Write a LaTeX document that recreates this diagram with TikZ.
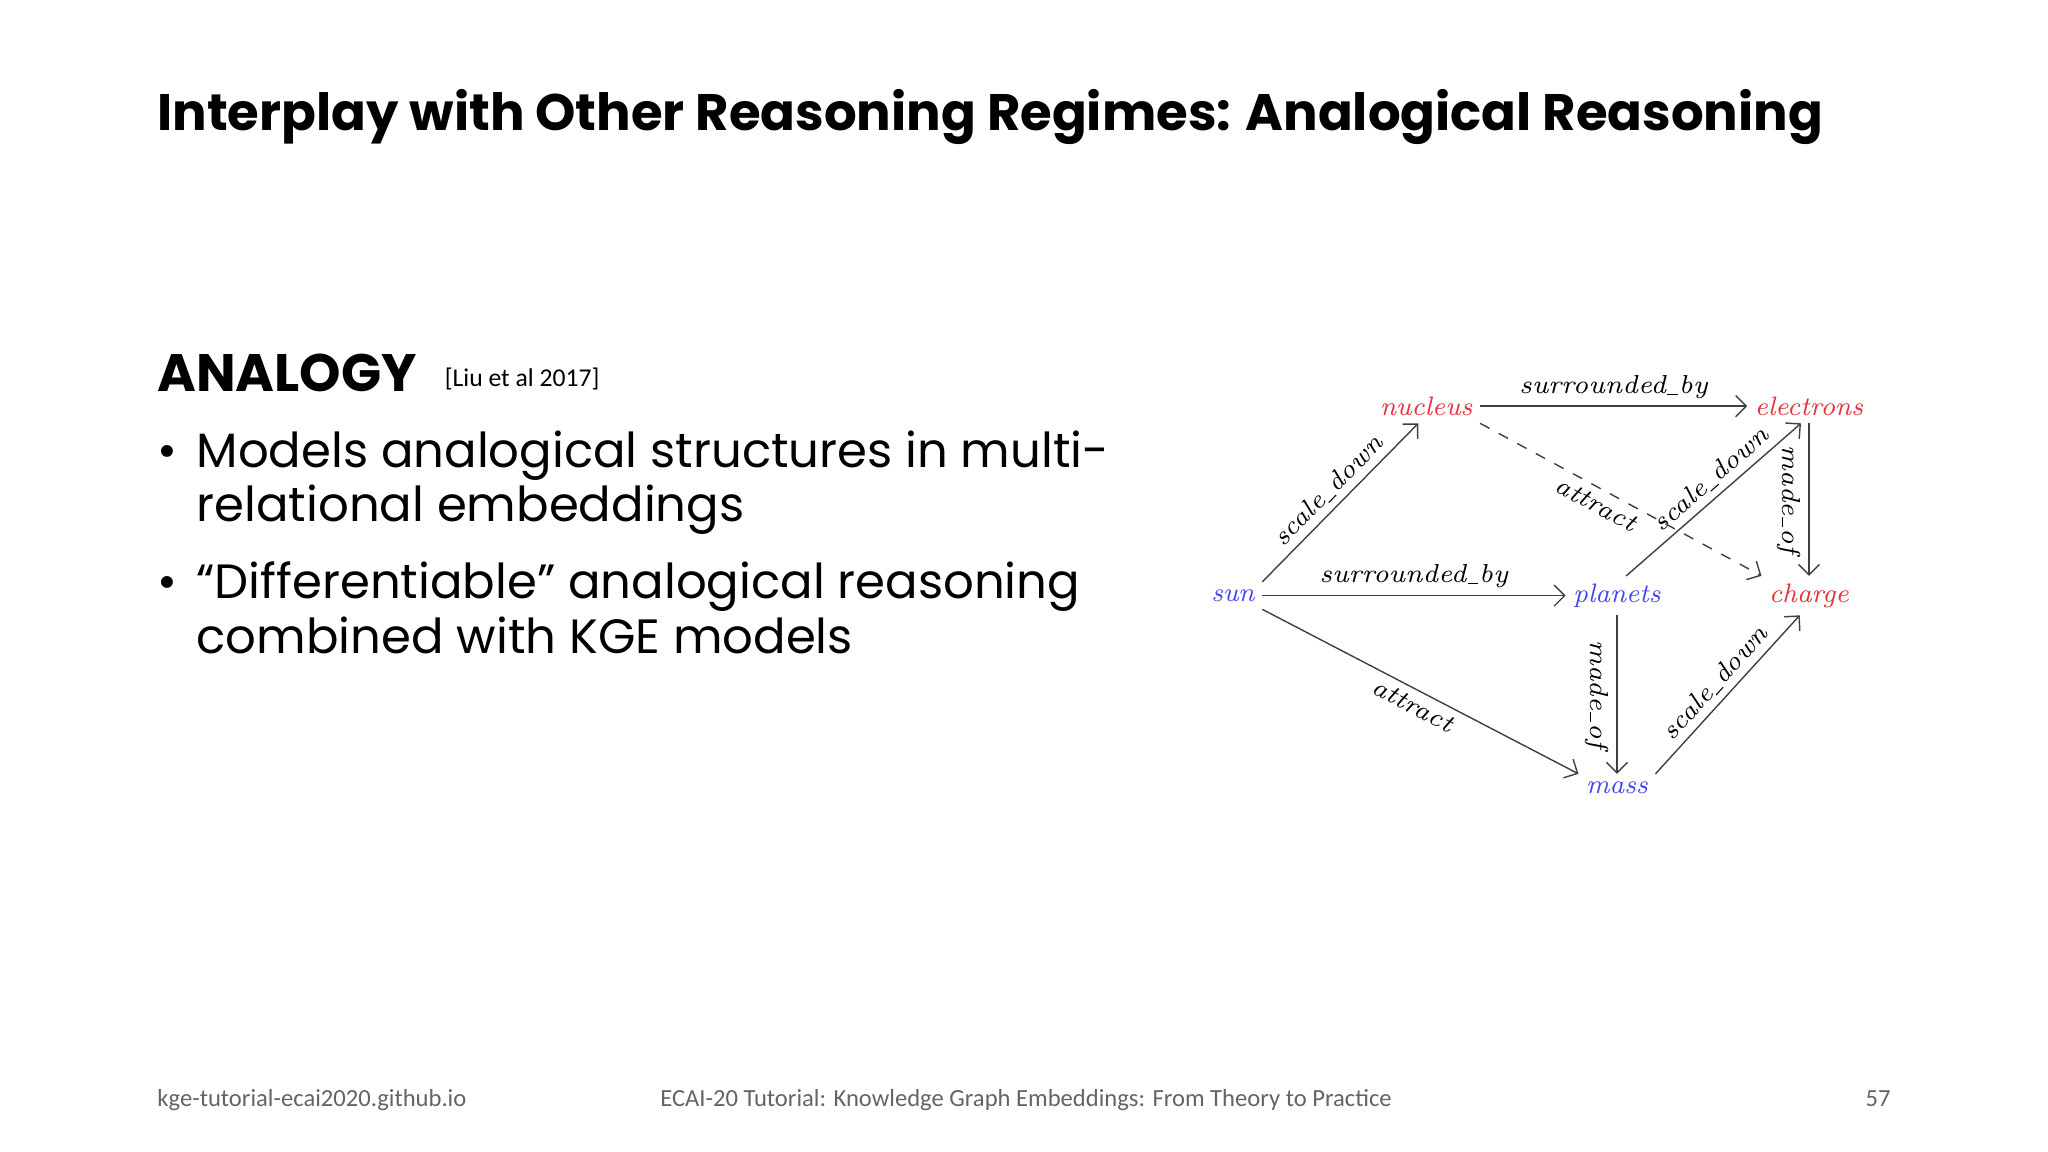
\documentclass[tikz,border=0pt]{standalone}
\usepackage{fontspec}
\newfontfamily\pop{Poppins}
\newfontfamily\car{Carlito}
\usetikzlibrary{arrows.meta}
\definecolor{nblue}{RGB}{70,70,235}
\definecolor{nred}{RGB}{230,50,60}
\definecolor{foot}{RGB}{100,100,100}
\newcommand{\us}{\kern0.3pt\rule[-0.4pt]{3pt}{0.3pt}\kern0.3pt}
\begin{document}
\begin{tikzpicture}[x=0.013061cm,y=-0.013061cm,
  ent/.style={font=\fontsize{7.6}{9}\selectfont\itshape, inner sep=2pt},
  bl/.style={ent,text=nblue}, rd/.style={ent,text=nred},
  rel/.style={-{Straight Barb[length=3pt]}, draw=black!75, line width=0.4pt},
  lab/.style={font=\fontsize{7.4}{9}\selectfont\itshape, sloped, inner sep=2pt}]
\useasboundingbox (0,0) rectangle (1568,882);
\node[anchor=base west, inner sep=0, font=\pop\bfseries\fontsize{14.6}{18}\selectfont] (title) at (120,100) {Interplay with Other Reasoning Regimes: Analogical Reasoning};
\node[anchor=base west, inner sep=0, font=\pop\bfseries\fontsize{15}{18}\selectfont] (an) at (120,300) {ANALOGY};
\node[anchor=base west, inner sep=0, font=\car\fontsize{7.3}{9}\selectfont] (ref) at (340,296) {[Liu et al 2017]};
\node[anchor=base west, inner sep=0, font=\pop\fontsize{13.7}{15}\selectfont] (b1) at (120,358) {•};
\node[anchor=base west, inner sep=0, font=\pop\fontsize{13.7}{15}\selectfont] (t1) at (150,358) {Models analogical structures in multi-};
\node[anchor=base west, inner sep=0, font=\pop\fontsize{13.7}{15}\selectfont] (t1b) at (150,399) {relational embeddings};
\node[anchor=base west, inner sep=0, font=\pop\fontsize{13.7}{15}\selectfont] (b2) at (120,458) {•};
\node[anchor=base west, inner sep=0, font=\pop\fontsize{13.7}{15}\selectfont] (t2) at (150,458) {“Differentiable” analogical reasoning};
\node[anchor=base west, inner sep=0, font=\pop\fontsize{13.7}{15}\selectfont] (t2b) at (150,500) {combined with KGE models};
% graph
\node[rd] (nuc) at (1092,311) {nucleus};
\node[rd] (ele) at (1385,311) {electrons};
\node[bl] (sun) at (944,456) {sun};
\node[bl] (pla) at (1238,456) {planets};
\node[rd] (cha) at (1385,456) {charge};
\node[bl] (mas) at (1238,603) {mass};
\draw[rel] (nuc) -- node[lab,above]{surrounded\us by} (ele);
\draw[rel] (sun.north east) -- node[lab,above]{scale\us down} (nuc.245);
\draw[rel] (sun) -- node[lab,above]{surrounded\us by} (pla);
\draw[rel] (pla.65) -- node[lab,above,pos=0.55]{scale\us down} (ele.245);
\draw[rel] (ele) -- node[lab,below]{made\us of} (cha);
\draw[rel] (pla) -- node[lab,below]{made\us of} (mas);
\draw[rel,dashed] (nuc.south east) -- node[lab,below,pos=0.44]{attract} (cha.north west);
\draw[rel] (sun.south east) -- node[lab,below]{attract} (mas.north west);
\draw[rel] (mas.north east) -- node[lab,above]{scale\us down} (cha.245);
% footer
\node[anchor=base west, inner sep=0, text=foot, font=\car\fontsize{7}{8}\selectfont] (f1) at (120,847) {kge-tutorial-ecai2020.github.io};
\node[anchor=base west, inner sep=0, text=foot, font=\car\fontsize{7}{8}\selectfont] (f2) at (505,847) {ECAI-20 Tutorial: Knowledge Graph Embeddings: From Theory to Practice};
\node[anchor=base east, inner sep=0, text=foot, font=\car\fontsize{7}{8}\selectfont] (f3) at (1448,847) {57};
\end{tikzpicture}
\end{document}
